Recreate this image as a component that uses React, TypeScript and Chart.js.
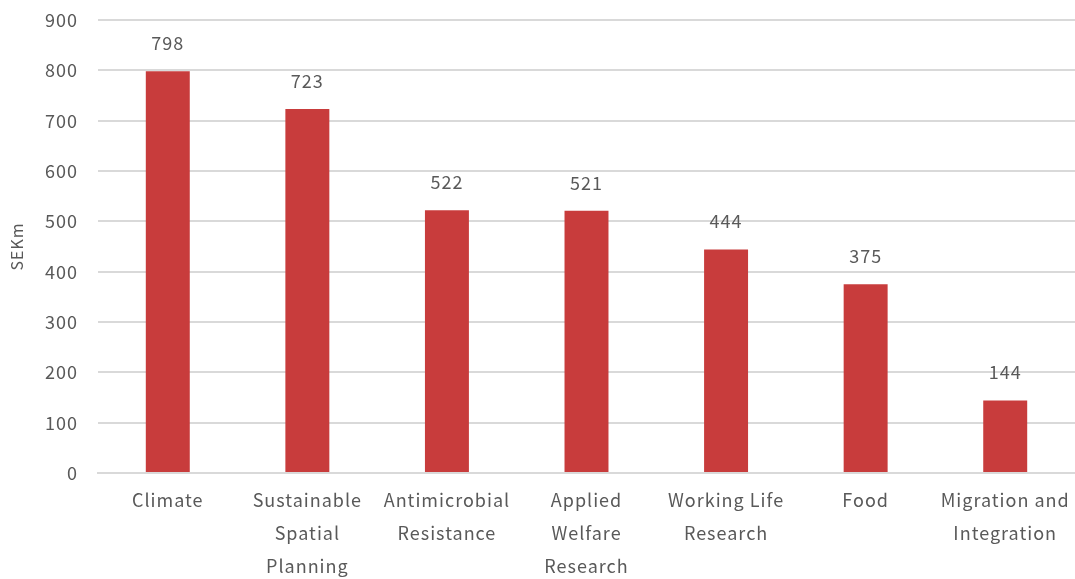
import React, { useEffect, useRef } from "react";
import { Chart, registerables } from "chart.js";

Chart.register(...registerables);

const categories: (string | string[])[] = [
  "Climate",
  ["Sustainable", "Spatial", "Planning"],
  ["Antimicrobial", "Resistance"],
  ["Applied", "Welfare", "Research"],
  ["Working Life", "Research"],
  "Food",
  ["Migration and", "Integration"],
];
const values: number[] = [798, 723, 522, 521, 444, 375, 144];
const yTicks: number[] = [0, 100, 200, 300, 400, 500, 600, 700, 800, 900];

const FONT = "'Noto Sans CJK JP', 'Noto Sans', sans-serif";
const TEXT = "#595959";

const spacing = {
  id: "spacing",
  beforeInit(chart: any) {
    chart.ctx.letterSpacing = "1px";
  },
  beforeDraw(chart: any) {
    chart.ctx.letterSpacing = "1px";
  },
};

const dataLabels = {
  id: "dataLabels",
  afterDatasetsDraw(chart: any) {
    const ctx = chart.ctx;
    const meta = chart.getDatasetMeta(0);
    ctx.save();
    ctx.font = `18px ${FONT}`;
    ctx.fillStyle = TEXT;
    ctx.textAlign = "center";
    ctx.textBaseline = "middle";
    meta.data.forEach((el: any, i: number) => {
      ctx.fillText(String(values[i]), el.x, el.y - 28);
    });
    ctx.restore();
  },
};

export default function App() {
  const ref = useRef<HTMLCanvasElement>(null);
  useEffect(() => {
    document.body.style.margin = "0";
    const chart = new Chart(ref.current!, {
      type: "bar",
      data: {
        labels: categories,
        datasets: [
          {
            data: values,
            backgroundColor: "#c83c3c",
            barPercentage: 0.63,
            categoryPercentage: 0.5,
          },
        ],
      },
      options: {
        animation: false,
        responsive: false,
        maintainAspectRatio: false,
        layout: { padding: { top: 20, right: 0, left: 0, bottom: 0 } },
        plugins: { legend: { display: false }, tooltip: { enabled: false } },
        scales: {
          x: {
            grid: { display: false },
            border: { display: true, color: "#d9d9d9", width: 2 },
            ticks: {
              color: TEXT,
              font: { family: FONT, size: 18, lineHeight: 1.83 },
              padding: 3,
              maxRotation: 0,
              autoSkip: false,
            },
            afterFit(scale: any) {
              scale.height = 106;
            },
          },
          y: {
            min: 0,
            max: 900,
            afterBuildTicks(scale: any) {
              scale.ticks = yTicks.map((v) => ({ value: v }));
            },
            grid: { color: "#d9d9d9", lineWidth: 2, drawTicks: false },
            border: { display: false },
            ticks: {
              color: TEXT,
              font: { family: FONT, size: 18 },
              padding: 20,
            },
            title: {
              display: true,
              text: "SEKm",
              color: TEXT,
              font: { family: FONT, size: 16 },
              padding: 7,
            },
            afterFit(scale: any) {
              scale.width = 98;
              scale.paddingTop = 0;
              scale.paddingBottom = 0;
            },
          },
        },
      },
      plugins: [spacing, dataLabels],
    });
    return () => chart.destroy();
  }, []);
  return (
    <div style={{ width: 1075, height: 579 }}>
      <canvas ref={ref} width={1075} height={579} />
    </div>
  );
}
